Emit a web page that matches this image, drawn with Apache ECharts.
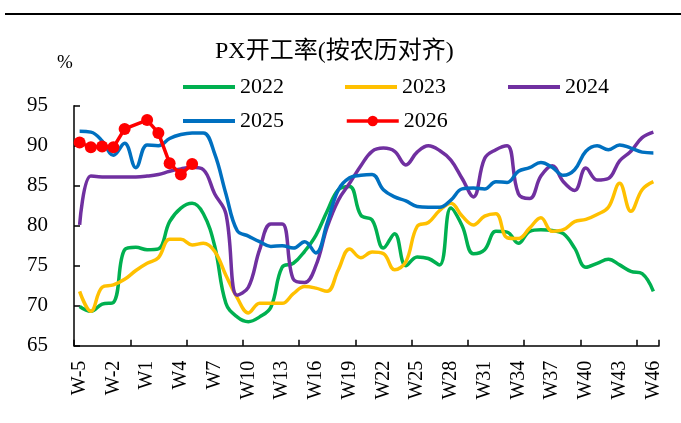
<!DOCTYPE html>
<html>
<head>
<meta charset="utf-8">
<script src="https://cdn.jsdelivr.net/npm/echarts@6/dist/echarts.min.js"></script>
<style>
html,body{margin:0;padding:0;background:#fff;}
#chart{width:681px;height:423px;}
</style>
</head>
<body>
<div id="chart"></div>
<script>
var categories = ['W-5','W-4','W-3','W-2','W-1','W0'];
for (var w = 1; w <= 46; w++) categories.push('W' + w);

var seriesNames = ['2022', '2023', '2024', '2025', '2026'];
var data2022 = [69.9, 69.3, 70.2, 70.4, 77.0, 77.3, 77.0, 77.1, 80.5, 82.2, 82.8, 81.5, 77.5, 70.3, 68.6, 68.0, 68.6, 69.8, 74.8, 75.3, 76.8, 78.8, 81.8, 84.5, 84.9, 81.3, 80.7, 77.2, 79.0, 75.0, 76.1, 75.9, 75.1, 82.2, 80.0, 76.5, 77.0, 79.3, 79.2, 77.8, 79.3, 79.5, 79.4, 79.0, 77.2, 74.8, 75.3, 75.8, 75.1, 74.3, 74.0, 71.8];
var data2023 = [71.8, 69.3, 72.3, 72.6, 73.3, 74.4, 75.3, 76.0, 78.3, 78.3, 77.6, 77.8, 76.8, 73.8, 71.0, 69.1, 70.3, 70.3, 70.3, 71.5, 72.4, 72.2, 71.8, 74.5, 77.1, 76.0, 76.7, 76.5, 74.5, 75.5, 79.9, 80.4, 81.9, 82.8, 81.2, 80.1, 81.2, 81.5, 78.5, 78.4, 79.7, 81.0, 79.3, 79.5, 80.5, 80.8, 81.4, 82.3, 85.3, 81.8, 84.5, 85.5];
var data2024 = [80.1, 86.2, 86.1, 86.1, 86.1, 86.1, 86.2, 86.4, 86.8, 87.1, 87.3, 87.0, 84.0, 81.5, 71.3, 72.3, 77.0, 80.2, 80.2, 73.3, 72.9, 75.0, 79.8, 83.2, 85.3, 87.5, 89.3, 89.7, 89.3, 87.6, 89.2, 90.0, 89.4, 88.2, 85.9, 83.6, 88.4, 89.5, 90.0, 84.0, 83.4, 86.2, 87.5, 85.5, 84.4, 87.2, 85.7, 85.9, 88.1, 89.3, 91.0, 91.7];
var data2025 = [91.8, 91.7, 90.6, 88.8, 90.3, 87.25, 90.1, 90.0, 90.9, 91.4, 91.6, 91.6, 89.0, 84.0, 79.4, 78.7, 78.0, 77.4, 77.5, 77.2, 78.0, 76.6, 80.3, 84.5, 86.0, 86.3, 86.4, 84.5, 83.6, 83.1, 82.4, 82.3, 82.3, 83.2, 84.6, 84.7, 84.6, 85.5, 85.4, 86.8, 87.25, 87.9, 87.3, 86.3, 87.0, 89.3, 90.0, 89.5, 90.1, 89.7, 89.2, 89.1];
var data2026 = [90.4, 89.8, 89.9, 89.8, 92.1, null, 93.2, 91.6, 87.8, 86.4, 87.7];
var yTicks = [65, 70, 75, 80, 85, 90, 95];

var colors = ['#00B050', '#FFC000', '#7030A0', '#0070C0', '#FF0000'];
var allData = [data2022, data2023, data2024, data2025, data2026];
var serif = "'Liberation Serif', 'Times New Roman', 'Noto Sans CJK SC', serif";

var series = seriesNames.map(function (name, k) {
  var isRed = k === 4;
  return {
    name: name,
    type: 'line',
    data: allData[k],
    smooth: isRed ? false : 0.4,
    connectNulls: true,
    symbol: isRed ? 'circle' : 'none',
    symbolSize: 12,
    showSymbol: isRed,
    showAllSymbol: true,
    lineStyle: { width: 3.5, color: colors[k] },
    itemStyle: { color: colors[k] },
    emphasis: { disabled: true },
    z: 2 + k
  };
});

var legendText = { fontFamily: serif, fontSize: 22, color: '#000' };
var legendLefts = [178, 340, 503, 178, 340];
var legendTops = [71, 71, 71, 105, 105];
var legends = seriesNames.map(function (name, k) {
  var isRed = k === 4;
  var l = {
    data: [name], left: legendLefts[k], top: legendTops[k],
    itemWidth: 52, itemHeight: isRed ? 13 : 4,
    textStyle: legendText
  };
  if (isRed) { l.lineStyle = { width: 3.5 }; } else { l.icon = 'rect'; }
  return l;
});

var chart = echarts.init(document.getElementById('chart'), null, { renderer: 'canvas' });
chart.setOption({
  animation: false,
  backgroundColor: '#ffffff',
  title: [
    { text: 'PX开工率(按农历对齐)', left: 210, top: 35,
      textStyle: { fontFamily: serif, fontSize: 24, fontWeight: 'normal', color: '#000' } },
    { text: '%', left: 52, top: 49,
      textStyle: { fontFamily: serif, fontSize: 19, fontWeight: 'normal', color: '#000' } }
  ],
  graphic: [
    { type: 'line', shape: { x1: 5, y1: 14, x2: 681, y2: 14 }, style: { stroke: '#000', lineWidth: 2 } }
  ],
  legend: legends,
  grid: { left: 74, right: 22, top: 105.7, bottom: 77.3, containLabel: false },
  xAxis: {
    type: 'category',
    data: categories,
    boundaryGap: true,
    axisLine: { lineStyle: { color: '#000', width: 1.5 } },
    axisTick: { show: true, inside: true, interval: 4, length: 6, lineStyle: { color: '#000', width: 1.5 } },
    axisLabel: { interval: 2, rotate: 90, margin: 15, fontFamily: serif, fontSize: 20, color: '#000' },
    splitLine: { show: false }
  },
  yAxis: {
    type: 'value',
    min: yTicks[0],
    max: yTicks[yTicks.length - 1],
    interval: 5,
    axisLine: { show: true, lineStyle: { color: '#000', width: 1.5 } },
    axisTick: { show: true, inside: true, length: 6, lineStyle: { color: '#000', width: 1.5 } },
    axisLabel: { margin: 26, fontFamily: serif, fontSize: 21, color: '#000' },
    splitLine: { show: false }
  },
  series: series
});
</script>
</body>
</html>
